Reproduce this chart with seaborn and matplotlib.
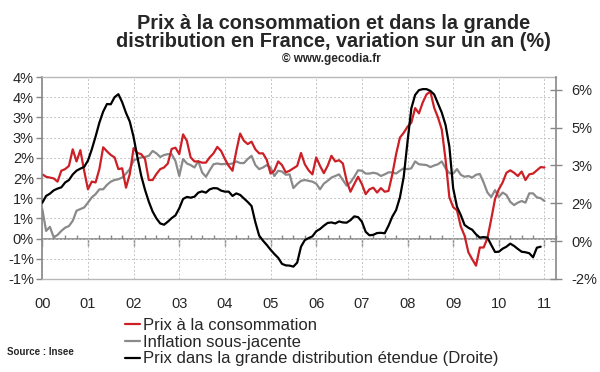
"""
Prix à la consommation et dans la grande distribution (France) - variation sur un an
"""
import numpy as np
import pandas as pd
import matplotlib
matplotlib.use("Agg")
import matplotlib.pyplot as plt
from matplotlib.ticker import MultipleLocator
import seaborn as sns


# ── Données (mensuelles, janv. 2000 -> janv. 2011) ─────────────────────────────

annees = ["00", "01", "02", "03", "04", "05", "06", "07", "08", "09", "10", "11"]

prix_conso = [
    1.59, 1.53, 1.51, 1.49, 1.41, 1.68, 1.72, 1.80, 2.21, 1.91, 2.19, 1.68,
    1.22, 1.41, 1.39, 1.72, 2.26, 2.16, 2.07, 2.01, 1.72, 1.74, 1.26, 1.60,
    2.24, 2.12, 2.09, 1.97, 1.45, 1.45, 1.60, 1.72, 1.76, 1.86, 2.22, 2.25,
    2.09, 2.58, 2.42, 2.01, 1.91, 1.91, 1.88, 1.88, 2.01, 2.11, 2.27, 2.17,
    1.97, 1.80, 1.68, 2.17, 2.60, 2.42, 2.34, 2.40, 2.21, 2.11, 2.11, 1.95,
    1.61, 1.68, 1.91, 1.82, 1.64, 1.68, 1.74, 1.80, 2.12, 1.84, 1.69, 1.59,
    2.01, 1.80, 1.62, 1.80, 2.05, 1.91, 1.94, 1.86, 1.43, 1.16, 1.35, 1.53,
    1.35, 1.10, 1.22, 1.26, 1.14, 1.25, 1.16, 1.18, 1.59, 2.09, 2.50, 2.62,
    2.77, 2.87, 3.23, 3.10, 3.37, 3.57, 3.64, 3.24, 3.00, 2.70, 1.95, 1.02,
    0.78, 0.70, 0.30, 0.07, -0.34, -0.51, -0.67, -0.22, -0.22, 0.01, 0.48, 0.98,
    1.22, 1.39, 1.63, 1.69, 1.63, 1.55, 1.66, 1.45, 1.59, 1.61, 1.69, 1.77,
    1.76,
]

inflation_sj = [
    0.73, 0.19, 0.29, 0.03, 0.09, 0.19, 0.27, 0.31, 0.44, 0.69, 0.73, 0.77,
    0.89, 1.02, 1.10, 1.22, 1.22, 1.33, 1.41, 1.45, 1.47, 1.51, 1.61, 1.72,
    1.94, 1.97, 2.01, 2.02, 2.05, 2.17, 2.11, 2.02, 2.07, 2.09, 2.09, 1.92,
    1.55, 1.97, 1.86, 1.82, 1.76, 1.92, 1.64, 1.53, 1.69, 1.84, 1.86, 1.84,
    1.85, 1.84, 1.86, 1.91, 1.87, 1.87, 1.97, 2.05, 1.82, 1.72, 1.76, 1.82,
    1.76, 1.55, 1.68, 1.66, 1.58, 1.59, 1.25, 1.35, 1.43, 1.45, 1.43, 1.41,
    1.36, 1.22, 1.36, 1.43, 1.51, 1.55, 1.59, 1.45, 1.31, 1.39, 1.53, 1.69,
    1.68, 1.61, 1.61, 1.63, 1.61, 1.55, 1.59, 1.64, 1.64, 1.61, 1.68, 1.74,
    1.72, 1.74, 1.91, 1.84, 1.83, 1.82, 1.77, 1.81, 1.84, 1.91, 1.74, 1.62,
    1.61, 1.72, 1.58, 1.53, 1.55, 1.51, 1.58, 1.60, 1.39, 1.14, 1.03, 1.20,
    1.03, 1.14, 1.08, 0.91, 0.83, 0.89, 0.93, 0.89, 1.12, 1.12, 1.02, 1.00,
    0.93,
]

grande_distrib = [
    1.52, 1.79, 1.88, 2.01, 2.08, 2.13, 2.32, 2.42, 2.64, 2.79, 2.87, 2.94,
    3.19, 3.63, 4.14, 4.69, 5.13, 5.43, 5.42, 5.70, 5.82, 5.50, 5.08, 4.73,
    4.12, 3.32, 2.59, 2.03, 1.56, 1.17, 0.90, 0.70, 0.65, 0.77, 0.91, 1.02,
    1.30, 1.67, 1.75, 1.72, 1.76, 1.92, 1.97, 1.92, 2.05, 2.10, 2.09, 2.00,
    1.96, 1.96, 1.79, 1.89, 1.83, 1.69, 1.55, 1.39, 0.75, 0.22, 0.02, -0.15,
    -0.34, -0.51, -0.66, -0.90, -0.96, -0.97, -1.01, -0.85, -0.22, 0.04, 0.12, 0.19,
    0.39, 0.48, 0.61, 0.72, 0.74, 0.70, 0.78, 0.74, 0.73, 0.83, 0.98, 0.95,
    0.77, 0.37, 0.23, 0.25, 0.32, 0.33, 0.31, 0.61, 0.97, 1.23, 1.73, 2.55,
    3.94, 5.26, 5.79, 5.98, 6.02, 6.02, 5.95, 5.81, 5.45, 5.09, 4.60, 3.74,
    2.09, 1.36, 1.03, 0.64, 0.53, 0.45, 0.27, 0.14, 0.16, 0.14, -0.15, -0.43,
    -0.42, -0.30, -0.22, -0.10, -0.19, -0.31, -0.42, -0.44, -0.48, -0.64, -0.26, -0.22,
]

# axes gauche / droite (étiquettes arrondies comme dans Excel)
ticks_gauche = [-1.0, -0.5, 0.0, 0.5, 1.0, 1.5, 2.0, 2.5, 3.0, 3.5, 4.0]
labels_gauche = ["-1%", "-1%", "0%", "1%", "1%", "2%", "2%", "3%", "3%", "4%", "4%"]
ticks_droite = [-1.5, 0.0, 1.5, 3.0, 4.5, 6.0]
labels_droite = ["-2%", "0%", "2%", "3%", "5%", "6%"]

ROUGE = "#CC1F26"
GRIS = "#8A8A8A"
NOIR = "#000000"
GRIS_AXE = "#888888"


df = pd.DataFrame({
    "mois": np.arange(len(prix_conso)),
    "conso": prix_conso,
    "sj": inflation_sj,
})
df_gd = pd.DataFrame({"mois": np.arange(len(grande_distrib)), "gd": grande_distrib})


# ── Figure ────────────────────────────────────────────────────────────────────

sns.set_style("white")
plt.rcParams["font.family"] = ["Liberation Sans", "DejaVu Sans"]

fig = plt.figure(figsize=(6.0, 3.72), dpi=100)
ax = fig.add_axes([0.0705, 0.25, 0.856, 0.543])
ax2 = ax.twinx()

sns.lineplot(data=df, x="mois", y="sj", ax=ax, color=GRIS, lw=1.6,
             label="Inflation sous-jacente")
sns.lineplot(data=df, x="mois", y="conso", ax=ax, color=ROUGE, lw=1.6,
             label="Prix à la consommation")
sns.lineplot(data=df_gd, x="mois", y="gd", ax=ax2, color=NOIR, lw=1.6,
             label="Prix dans la grande distribution étendue (Droite)")

h1, l1 = ax.get_legend_handles_labels()
h2, l2 = ax2.get_legend_handles_labels()
ax.get_legend().remove()
ax2.get_legend().remove()

ax.set_xlim(0, 135)
ax.set_ylim(-1, 4)
ax2.set_ylim(-1.5, 6.5)

ax.set_xticks(np.arange(0, 12 * len(annees), 12))
ax.set_xticklabels(annees)
ax.set_yticks(ticks_gauche)
ax.set_yticklabels(labels_gauche)
ax2.set_yticks(ticks_droite)
ax2.set_yticklabels(labels_droite)
ax.set_xlabel("")
ax.set_ylabel("")
ax2.set_ylabel("")

ax.grid(True, ls=(0, (2, 2)), color="#C4C4C4", lw=0.7)
ax2.grid(False)

ax.tick_params(axis="x", length=0, pad=13, labelsize=10.5)
ax.tick_params(axis="y", direction="out", length=4, width=1,
               color=GRIS_AXE, pad=2, labelsize=10.5, left=True)
ax2.tick_params(axis="y", direction="inout", length=8, width=1,
                color=GRIS_AXE, pad=7, labelsize=10.5, right=True)

for s in ["top", "bottom"]:
    ax.spines[s].set_color("#B8B8B8")
    ax.spines[s].set_linewidth(1.0)
ax.spines["left"].set_color(GRIS_AXE)
ax.spines["left"].set_linewidth(1.2)
ax.spines["right"].set_visible(False)
for s in ["top", "bottom", "left"]:
    ax2.spines[s].set_visible(False)
ax2.spines["right"].set_color(GRIS_AXE)
ax2.spines["right"].set_linewidth(1.2)

# axe horizontal au niveau du zéro (gauche)
zero = ax.secondary_xaxis(0, transform=ax.transData)
zero.set_xticks(np.arange(0, 12 * len(annees), 12))
zero.xaxis.set_minor_locator(MultipleLocator(3))
zero.tick_params(which="major", direction="out", length=5, width=1,
                 color=GRIS_AXE, labelbottom=False)
zero.tick_params(which="minor", direction="in", length=3, width=1,
                 color=GRIS_AXE)
zero.spines["bottom"].set_color(GRIS_AXE)
zero.spines["bottom"].set_linewidth(1.2)

# ── Titres et légende ─────────────────────────────────────────────────────────

fig.text(0.556, 0.938, "Prix à la consommation et dans la grande",
         ha="center", va="center", fontsize=14.3, weight="bold")
fig.text(0.556, 0.889, "distribution en France, variation sur un an (%)",
         ha="center", va="center", fontsize=14.3, weight="bold")
fig.text(0.553, 0.842, "© www.gecodia.fr",
         ha="center", va="center", fontsize=8.5, weight="bold")
fig.text(0.012, 0.054, "Source : Insee",
         ha="left", va="center", fontsize=7, weight="bold")

handles = [h1[1], h1[0], h2[0]]
labels = [l1[1], l1[0], l2[0]]
fig.legend(handles, labels, loc="upper left", bbox_to_anchor=(0.208, 0.145),
           frameon=False, fontsize=12, handlelength=0.9, handletextpad=0.2,
           labelspacing=0.1, borderpad=0, borderaxespad=0)

fig.savefig("out.png", dpi=100)
